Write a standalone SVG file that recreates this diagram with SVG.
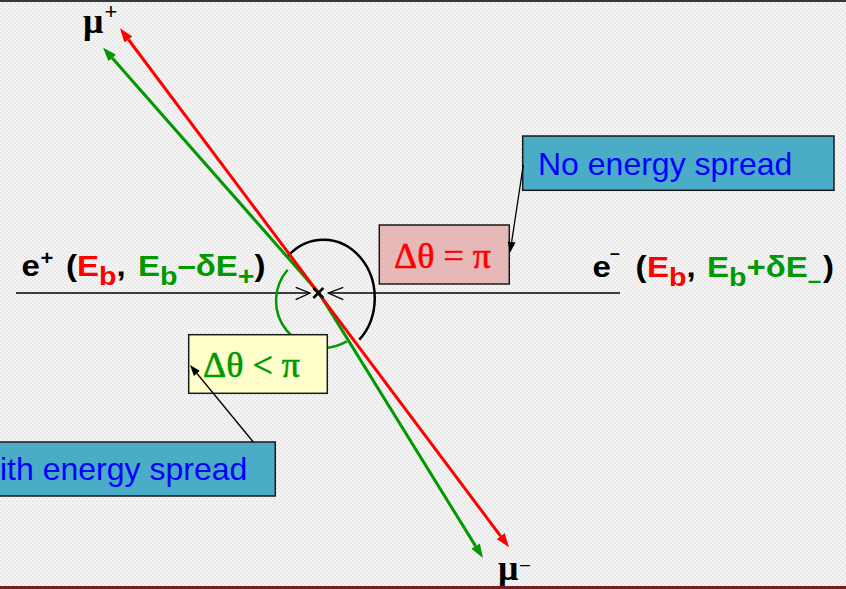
<svg xmlns="http://www.w3.org/2000/svg" width="846" height="589" viewBox="0 0 846 589">
<defs>
<pattern id="bg" width="4" height="4" patternUnits="userSpaceOnUse">
<rect width="4" height="4" fill="#f5f5f5"/>
<rect width="2" height="2" fill="#e9e9e9"/>
<rect x="2" y="2" width="2" height="2" fill="#e9e9e9"/>
</pattern>
<marker id="ar" markerUnits="userSpaceOnUse" markerWidth="14" markerHeight="10" refX="0" refY="5" orient="auto-start-reverse"><path d="M0,0 L14,5 L0,10 z" fill="#ff0000"/></marker>
<marker id="ag" markerUnits="userSpaceOnUse" markerWidth="14" markerHeight="10" refX="0" refY="5" orient="auto-start-reverse"><path d="M0,0 L14,5 L0,10 z" fill="#009900"/></marker>
<marker id="ak" markerUnits="userSpaceOnUse" markerWidth="11" markerHeight="8" refX="0" refY="4" orient="auto"><path d="M0,0 L11,4 L0,8 z" fill="#000"/></marker>
</defs>
<style>
.box{stroke:#1a1a1a;stroke-width:1.5}
.cyan{fill:#4aacc6}
.btxt{font-family:"Liberation Sans",Arial,sans-serif;font-size:32px;fill:#0000ff}
.sym{font-family:"Liberation Serif","Times New Roman",serif;font-size:36px;stroke-width:0.6}
.lbl{font-family:"Liberation Sans",Arial,sans-serif;font-weight:bold;font-size:30px;fill:#000}
.r{fill:#ff0000}.g{fill:#009900}
.sym.r{stroke:#ff0000}.sym.g{stroke:#009900}
.sub{font-size:26px}
.mu{font-family:"Liberation Serif","Times New Roman",serif;font-weight:bold;font-size:36px;fill:#000}
.sup{font-family:"Liberation Sans",Arial,sans-serif;font-weight:normal}
.thin{stroke:#000;stroke-width:1.3;fill:none}
</style>
<rect width="846" height="589" fill="url(#bg)"/>
<rect x="0" y="0" width="846" height="2" fill="#3a3a3a"/>

<g id="connectors">
<line x1="16" y1="293" x2="310" y2="293" class="thin"/>
<line x1="620" y1="293" x2="328" y2="293" class="thin"/>
<polyline points="295.7,287.3 310,293 295.7,299.7" class="thin"/>
<polyline points="343.3,287.3 328.3,293 343.3,299.7" class="thin"/>
<path d="M287.7,256.3 A51,58 0 1,1 359.3,339.7" fill="none" stroke="#000" stroke-width="2.5"/>
<path d="M287.7,269.7 A47,47 0 0,0 346.7,341.3" fill="none" stroke="#009900" stroke-width="2.5"/>
<path d="M112.25,58 L319,293 L475.6,546.1" fill="none" stroke="#009900" stroke-width="3" marker-start="url(#ag)" marker-end="url(#ag)"/>
<path d="M128.4,39.5 L500.6,536.1" fill="none" stroke="#ff0000" stroke-width="3" marker-start="url(#ar)" marker-end="url(#ar)"/>
</g>

<g id="vertex">
<line x1="313.3" y1="288" x2="323.3" y2="298" stroke="#000" stroke-width="2.5"/>
<line x1="323.3" y1="288" x2="313.3" y2="298" stroke="#000" stroke-width="2.5"/>
</g>

<g id="box-no-spread">
<rect x="522.7" y="136" width="311.3" height="54.3" class="box cyan"/>
<text x="538" y="175" class="btxt">No energy spread</text>
</g>

<g id="box-with-spread">
<rect x="-2" y="442" width="277.3" height="54" class="box cyan"/>
<text x="0" y="480" class="btxt">ith energy spread</text>
</g>

<g id="box-dtheta-eq">
<rect x="379.3" y="225" width="130" height="59" class="box" fill="#e6b9b8"/>
<text x="394" y="268.3" class="sym r">Δθ = π</text>
</g>

<g id="box-dtheta-lt">
<rect x="188.7" y="334.7" width="138.6" height="58.6" class="box" fill="#ffffcc"/>
<text x="203" y="376.7" class="sym g">Δθ &lt; π</text>
</g>

<g id="callouts">
<line x1="523.3" y1="165" x2="511.65" y2="241.8" stroke="#000" stroke-width="1.3" marker-end="url(#ak)"/>
<line x1="253.3" y1="442" x2="197" y2="373.5" stroke="#000" stroke-width="1.3" marker-end="url(#ak)"/>
</g>

<g id="label-e-plus">
<text class="lbl" transform="matrix(1.1,0,0,1,0,0)"><tspan x="19.55" y="276">e</tspan><tspan x="36.82" y="265" style="font-size:20px">+</tspan><tspan x="60" y="276">(</tspan><tspan x="70" y="276" class="r">E</tspan><tspan y="285" class="r sub">b</tspan><tspan y="276">,</tspan><tspan x="125.45" y="276" class="g">E</tspan><tspan y="285" class="g sub">b</tspan><tspan y="276" class="g">–δE</tspan><tspan y="285.3" class="g sub">+</tspan><tspan y="276">)</tspan></text>
</g>

<g id="label-e-minus">
<text class="lbl" transform="matrix(1.1,0,0,1,0,0)"><tspan x="538.64" y="277">e</tspan><tspan x="554.55" y="259.5" style="font-size:16px">–</tspan><tspan x="577.73" y="277">(</tspan><tspan x="588.18" y="277" class="r">E</tspan><tspan y="286" class="r sub">b</tspan><tspan y="277">,</tspan><tspan x="642.73" y="277" class="g">E</tspan><tspan y="286" class="g sub">b</tspan><tspan y="277" class="g">+δE</tspan><tspan y="287.7" class="g" style="font-size:22px">–</tspan><tspan x="748.18" y="277">)</tspan></text>
</g>

<g id="label-mu-plus">
<text class="mu"><tspan x="83" y="33">μ</tspan><tspan x="104.5" y="19" class="sup" style="font-size:22px">+</tspan></text>
</g>

<g id="label-mu-minus">
<text class="mu"><tspan x="498" y="580">μ</tspan><tspan x="520" y="570" class="sup" style="font-size:18px">–</tspan></text>
</g>
<rect x="0" y="586" width="846" height="3" fill="#7b1c1c"/>
</svg>
